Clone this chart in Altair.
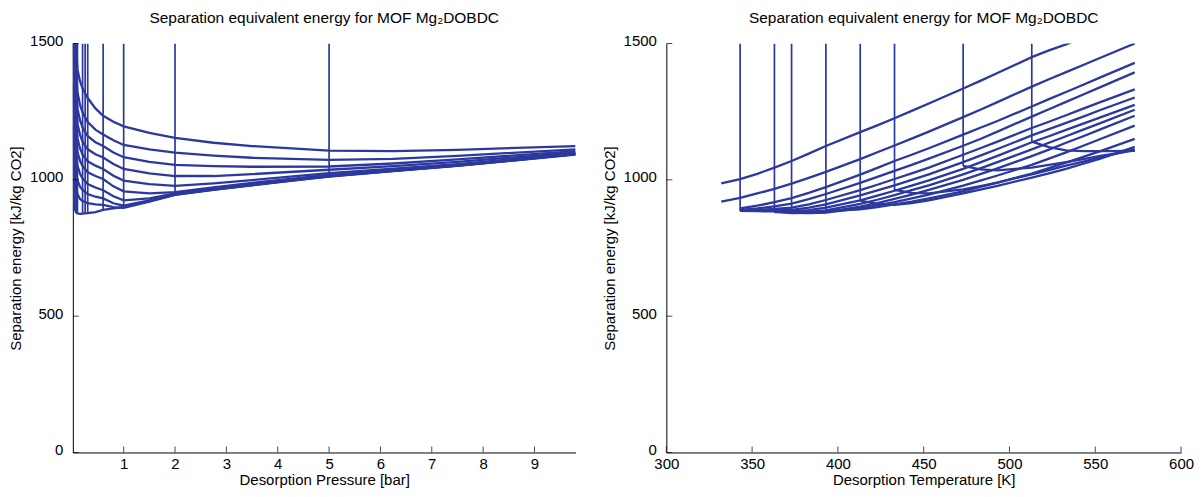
import altair as alt
import pandas as pd

FONT = "Liberation Sans, Arial, Helvetica, sans-serif"
BLUE = "#2b399f"
TITLE = "Separation equivalent energy for MOF Mg\u2082DOBDC"

# ---------------- Left panel: iso-temperature curves vs desorption pressure ----------------
left_P = [0.02, 0.035, 0.05, 0.075, 0.1, 0.15, 0.2, 0.3, 0.45, 0.6, 0.8, 1.0, 1.5, 2.0, 2.75, 3.5, 5.0, 6.25, 7.5, 9.8]
left_c1 = [2600, 1900, 1640, 1480, 1405, 1362, 1335, 1300, 1262, 1235, 1213, 1196, 1172, 1154, 1136, 1124, 1107, 1105, 1110, 1124]
left_c2 = [2400, 1780, 1540, 1390, 1322, 1275, 1247, 1212, 1184, 1166, 1145, 1128, 1112, 1100, 1089, 1081, 1073, 1077, 1088, 1112]
left_c3 = [2250, 1680, 1460, 1325, 1262, 1218, 1192, 1160, 1138, 1124, 1100, 1083, 1066, 1055, 1050, 1048, 1049, 1060, 1075, 1105]
left_c4 = [2100, 1570, 1380, 1262, 1206, 1165, 1140, 1112, 1094, 1082, 1058, 1040, 1024, 1014, 1014, 1021, 1037, 1050, 1066, 1100]
left_c5 = [1950, 1460, 1300, 1200, 1152, 1115, 1092, 1068, 1052, 1040, 1015, 997, 984, 978, 987, 999, 1025, 1041, 1058, 1097]
left_c6 = [1800, 1370, 1230, 1145, 1103, 1070, 1050, 1028, 1014, 1003, 976, 958, 950, 955, 972, 989, 1018, 1035, 1054, 1095]
left_c7 = [1650, 1280, 1160, 1088, 1052, 1022, 1005, 985, 972, 962, 940, 925, 932, 950, 968, 985, 1014, 1033, 1052, 1094]
left_c8 = [1500, 1190, 1090, 1028, 998, 975, 963, 948, 938, 932, 914, 905, 925, 947, 965, 982, 1012, 1032, 1051, 1093]
left_c9 = [1350, 1110, 1020, 968, 948, 930, 922, 915, 910, 908, 900, 897, 920, 945, 963, 980, 1013, 1033, 1052, 1094]
left_c10 = [1200, 1010, 890, 880, 877, 875, 876, 878, 882, 890, 895, 900, 922, 946, 964, 981, 1016, 1035, 1054, 1096]
left_curves = [left_c1, left_c2, left_c3, left_c4, left_c5, left_c6, left_c7, left_c8, left_c9, left_c10]

# iso-pressure lines (vertical) : pressure and lowest energy reached
left_vline_P = [0.02, 0.05, 0.075, 0.1, 0.2, 0.25, 0.3, 0.6, 1.0, 2.0, 5.0]
left_vline_low = [885, 890, 880, 877, 876, 877, 878, 890, 897, 945, 1012]

left_xticks = [1, 2, 3, 4, 5, 6, 7, 8, 9]
y_ticks = [0, 500, 1000, 1500]

# ---------------- Right panel: iso-pressure curves vs desorption temperature ----------------
right_T = [332, 343, 353, 363, 373, 383, 393, 413, 423, 433, 443, 453, 473, 483, 493, 513, 523, 533, 543, 553, 573]
N = None
right_r1 = [987, 1003, 1022, 1045, 1069, 1096, 1124, 1175, 1200, 1226, 1253, 1280, 1335, 1363, 1392, 1450, 1475, 1497, 1522, N, N]
right_r2 = [920, 934, 950, 967, 986, 1007, 1029, 1076, 1101, 1126, 1151, 1177, 1230, 1257, 1285, 1342, 1369, 1395, 1421, 1448, 1500]
right_r3 = [N, 895, 905, 918, 933, 952, 973, 1019, 1044, 1069, 1092, 1116, 1166, 1191, 1216, 1269, 1296, 1322, 1349, 1376, 1429]
right_r4 = [N, 890, 895, 903, 913, 929, 948, 989, 1011, 1033, 1055, 1078, 1125, 1150, 1177, 1232, 1259, 1286, 1313, 1340, 1394]
right_r5 = [N, 888, 890, 893, 898, 910, 926, 962, 982, 1003, 1024, 1045, 1092, 1116, 1140, 1190, 1213, 1237, 1261, 1285, 1332]
right_r6 = [N, 887, 887, 888, 890, 898, 910, 943, 961, 980, 1000, 1020, 1065, 1089, 1113, 1163, 1186, 1209, 1232, 1256, 1302]
right_r7 = [N, 886, 885, 884, 884, 889, 898, 925, 942, 960, 979, 998, 1040, 1064, 1088, 1138, 1160, 1183, 1206, 1229, 1275]
right_r8 = [N, N, N, 882, 880, 882, 888, 912, 927, 944, 962, 980, 1020, 1042, 1065, 1112, 1136, 1160, 1184, 1208, 1257]
right_r9 = [N, N, N, 884, 878, 879, 882, 902, 915, 930, 946, 963, 1000, 1021, 1042, 1087, 1111, 1136, 1160, 1185, 1235]
right_r10 = [N, N, N, N, 880, 878, 880, 895, 906, 918, 932, 946, 979, 997, 1016, 1055, 1078, 1101, 1125, 1150, 1199]
right_r11 = [N, N, N, N, N, N, 885, 892, 900, 910, 920, 932, 958, 974, 990, 1023, 1043, 1063, 1084, 1105, 1150]
right_r12 = [N, N, N, N, N, N, N, 924, 912, 908, 915, 925, 950, 964, 978, 1008, 1024, 1040, 1059, 1078, 1121]
right_r13 = [N, N, N, N, N, N, N, N, N, 963, 952, 950, 965, 977, 990, 1020, 1036, 1052, 1067, 1082, 1112]
right_r14 = [N, N, N, N, N, N, N, N, N, N, N, N, 1051, 1038, 1035, 1045, 1055, 1065, 1076, 1088, 1108]
right_r15 = [N, N, N, N, N, N, N, N, N, N, N, N, N, N, N, 1140, 1120, 1108, 1105, 1105, 1106]
right_curves = [right_r1, right_r2, right_r3, right_r4, right_r5, right_r6, right_r7, right_r8,
                right_r9, right_r10, right_r11, right_r12, right_r13, right_r14, right_r15]

# iso-temperature lines (vertical): temperature and lowest energy reached
right_vline_T = [343, 363, 373, 393, 413, 433, 473, 513]
right_vline_low = [886, 882, 878, 880, 924, 963, 1051, 1140]

right_xticks = [300, 350, 400, 450, 500, 550, 600]

# ---------------- build tables ----------------
rows = []
for i, ys in enumerate(left_curves):
    for p, e in zip(left_P, ys):
        rows.append({"curve": f"T{i}", "P": p, "E": e})
left_df = pd.DataFrame(rows)
left_v = pd.DataFrame({"P": left_vline_P, "low": left_vline_low})

rows = []
for i, ys in enumerate(right_curves):
    for t, e in zip(right_T, ys):
        if e is not None:
            rows.append({"curve": f"P{i}", "T": t, "E": e})
right_df = pd.DataFrame(rows)
right_v = pd.DataFrame({"T": right_vline_T, "low": right_vline_low})

YDOM = [0, 1500]
LX_DOM = [0.01, 9.8]
RX_DOM = [300, 600]

ax_common = dict(
    grid=False, ticks=False, domainColor="black", domainWidth=1,
    labelFont=FONT, labelColor="black", labelFontSize=15,
    titleFont=FONT, titleFontSize=15, titleFontWeight="normal", titleColor="black",
    labelFlush=False, labelOverlap=False, format="d",
)


def panel(df, vdf, xfield, xdom, xticks, xtitle, width):
    xs = alt.Scale(domain=xdom, nice=False, zero=False)
    ys = alt.Scale(domain=YDOM, nice=False)
    xaxis = alt.Axis(values=xticks, labelPadding=4, titlePadding=1, **ax_common)
    yaxis = alt.Axis(values=y_ticks, labelPadding=10, titlePadding=6, labelOffset=-3, **ax_common)
    lines = alt.Chart(df).mark_line(clip=True, color=BLUE, strokeWidth=2.3).encode(
        x=alt.X(f"{xfield}:Q", scale=xs, axis=xaxis, title=xtitle),
        y=alt.Y("E:Q", scale=ys, axis=yaxis, title="Separation energy [kJ/kg CO2]"),
        detail="curve:N",
        order=f"{xfield}:Q",
    )
    vlines = alt.Chart(vdf).mark_rule(clip=True, color=BLUE, strokeWidth=1.7).encode(
        x=f"{xfield}:Q", y="low:Q", y2=alt.datum(YDOM[1]),
    )
    xt = alt.Chart(pd.DataFrame({"v": xticks})).mark_tick(
        orient="vertical", size=6, thickness=1, color="black"
    ).encode(x="v:Q", y=alt.datum(0), yOffset=alt.value(-3))
    yt = alt.Chart(pd.DataFrame({"v": y_ticks})).mark_tick(
        orient="horizontal", size=6, thickness=1, color="black"
    ).encode(y="v:Q", x=alt.datum(xdom[0]), xOffset=alt.value(3))
    return alt.layer(lines, vlines, xt, yt).properties(
        width=width, height=410,
        title=alt.TitleParams(TITLE, font=FONT, fontSize=15.5, fontWeight="normal",
                              color="black", anchor="middle", offset=7),
    )


left = panel(left_df, left_v, "P", LX_DOM, left_xticks, "Desorption Pressure [bar]", 504)
right = panel(right_df, right_v, "T", RX_DOM, right_xticks, "Desorption Temperature [K]", 516)

chart = alt.hconcat(left, right, spacing=26).configure_view(stroke=None).properties(
    padding={"left": 0, "top": 2, "right": 0, "bottom": 0}
)

chart.save("out.html", embed_options={"renderer": "svg", "actions": False})
